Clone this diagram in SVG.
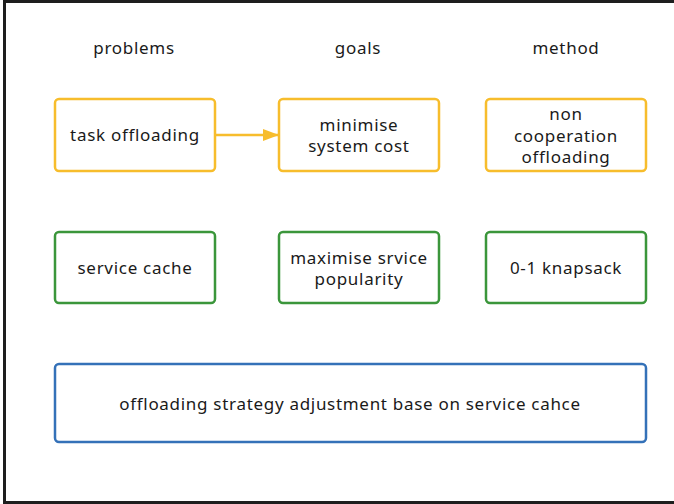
<svg xmlns="http://www.w3.org/2000/svg" width="674" height="504" viewBox="0 0 674 504">
  <style>
    text { font-family: "Noto Sans", "Open Sans", "DejaVu Sans", sans-serif; font-size: 17px; letter-spacing: 0.7px; fill: #1a1a1a; text-anchor: middle; dominant-baseline: central; }
    .box { fill: #ffffff; stroke-width: 2.5; }
    .yellow { stroke: #f7bd2c; }
    .green { stroke: #3b963b; }
    .blue { stroke: #3471b8; }
    .conn { stroke: #f7bd2c; stroke-width: 2.5; fill: none; }
  </style>
  <defs>
    <marker id="arrow" viewBox="0 0 16 12" refX="16" refY="6" markerWidth="16" markerHeight="12" markerUnits="userSpaceOnUse" orient="auto">
      <path d="M0,0 L16,6 L0,12 Z" fill="#f7bd2c"/>
    </marker>
  </defs>

  <rect x="0" y="0" width="674" height="504" fill="#ffffff"/>
  <!-- outer frame -->
  <rect x="4.5" y="1.5" width="680" height="501" fill="none" stroke="#1e1e1e" stroke-width="3"/>

  <!-- column headers -->
  <g id="headers">
    <text x="134" y="47">problems</text>
    <text x="358" y="47">goals</text>
    <text x="566" y="47">method</text>
  </g>

  <g id="task-offloading">
    <rect class="box yellow" x="55" y="99" width="160" height="72" rx="4"/>
    <text x="135" y="134">task offloading</text>
  </g>
  <g id="minimise-cost">
    <rect class="box yellow" x="279" y="99" width="160" height="72" rx="4"/>
    <text x="359" y="124">minimise<tspan x="359" y="145">system cost</tspan></text>
  </g>
  <g id="non-cooperation">
    <rect class="box yellow" x="486" y="99" width="160" height="72" rx="4"/>
    <text x="566" y="113">non<tspan x="566" y="134.5">cooperation</tspan><tspan x="566" y="156">offloading</tspan></text>
  </g>

  <g id="service-cache">
    <rect class="box green" x="55" y="232" width="160" height="71" rx="4"/>
    <text x="135" y="267">service cache</text>
  </g>
  <g id="maximise-popularity">
    <rect class="box green" x="279" y="232" width="160" height="71" rx="4"/>
    <text x="359" y="257">maximise srvice<tspan x="359" y="278">popularity</tspan></text>
  </g>
  <g id="knapsack">
    <rect class="box green" x="486" y="232" width="160" height="71" rx="4"/>
    <text x="566" y="267">0-1 knapsack</text>
  </g>

  <g id="strategy-adjustment">
    <rect class="box blue" x="55" y="364" width="591" height="78" rx="4"/>
    <text x="350" y="403">offloading strategy adjustment base on service cahce</text>
  </g>

  <g id="connectors">
    <line class="conn" x1="215" y1="135" x2="279" y2="135" marker-end="url(#arrow)"/>
  </g>
</svg>
